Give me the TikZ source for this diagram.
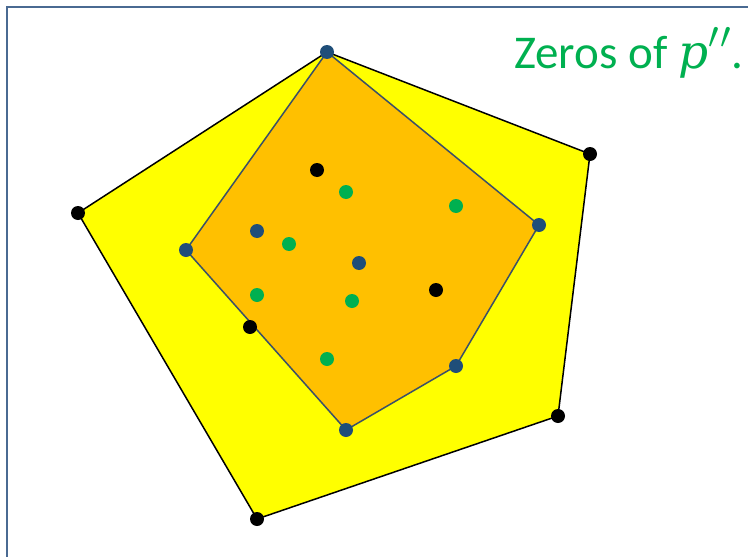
\RequirePackage{fix-cm}
\documentclass[tikz,border=0pt]{standalone}
\usepackage{fontspec}
\usepackage{graphicx}
\setmainfont{Carlito}
\newfontfamily\pfont{DejaVu Serif}
\definecolor{frameblue}{HTML}{4A6A92}
\definecolor{yel}{HTML}{FFFF00}
\definecolor{org}{HTML}{FFC000}
\definecolor{edgeblue}{HTML}{3B5068}
\definecolor{dotblue}{HTML}{1F4E79}
\definecolor{grn}{HTML}{00B050}
\tikzset{
  bdot/.style={circle,fill=black,inner sep=0pt,minimum size=14pt},
  udot/.style={circle,fill=dotblue,inner sep=0pt,minimum size=14pt},
  gdot/.style={circle,fill=grn,inner sep=0pt,minimum size=14pt},
}
\begin{document}
\begin{tikzpicture}[x=1pt,y=-1pt]
\useasboundingbox (0,0) rectangle (748,557);
\fill[white] (0,0) rectangle (748,557);
\draw[frameblue,line width=2.2pt] (7,557) -- (7,7) -- (748,7);
% outer hull
\coordinate (o1) at (327,52);
\coordinate (o2) at (590,154);
\coordinate (o3) at (558,416);
\coordinate (o4) at (257,519);
\coordinate (o5) at (78,213);
\filldraw[fill=yel,draw=black,line width=1.5pt,line join=round] (o1) -- (o2) -- (o3) -- (o4) -- (o5) -- cycle;
% inner hull
\coordinate (i2) at (539,225);
\coordinate (i3) at (456,366);
\coordinate (i4) at (346,430);
\coordinate (i5) at (186,250);
\filldraw[fill=org,draw=edgeblue,line width=1.5pt,line join=round] (o1) -- (i2) -- (i3) -- (i4) -- (i5) -- cycle;
% black points
\node[bdot] (b1) at (o2) {};
\node[bdot] (b2) at (o3) {};
\node[bdot] (b3) at (o4) {};
\node[bdot] (b4) at (o5) {};
\node[bdot] (b5) at (317,170) {};
\node[bdot] (b6) at (436,290) {};
\node[bdot] (b7) at (250,327) {};
% blue points
\node[udot] (u1) at (o1) {};
\node[udot] (u2) at (i2) {};
\node[udot] (u3) at (i3) {};
\node[udot] (u4) at (i4) {};
\node[udot] (u5) at (i5) {};
\node[udot] (u6) at (257,231) {};
\node[udot] (u7) at (359,263) {};
% green points
\node[gdot] (g1) at (346,192) {};
\node[gdot] (g2) at (456,206) {};
\node[gdot] (g3) at (289,244) {};
\node[gdot] (g4) at (257,295) {};
\node[gdot] (g5) at (352,301) {};
\node[gdot] (g6) at (327,359) {};
\node[anchor=base west,text=grn,font=\fontsize{47}{50}\selectfont,inner sep=0pt] (t) at (514,68) {Zeros of {\pfont\itshape p}\scalebox{1.15}{$^{\prime\mkern1mu\prime}$}.};
\end{tikzpicture}
\end{document}
